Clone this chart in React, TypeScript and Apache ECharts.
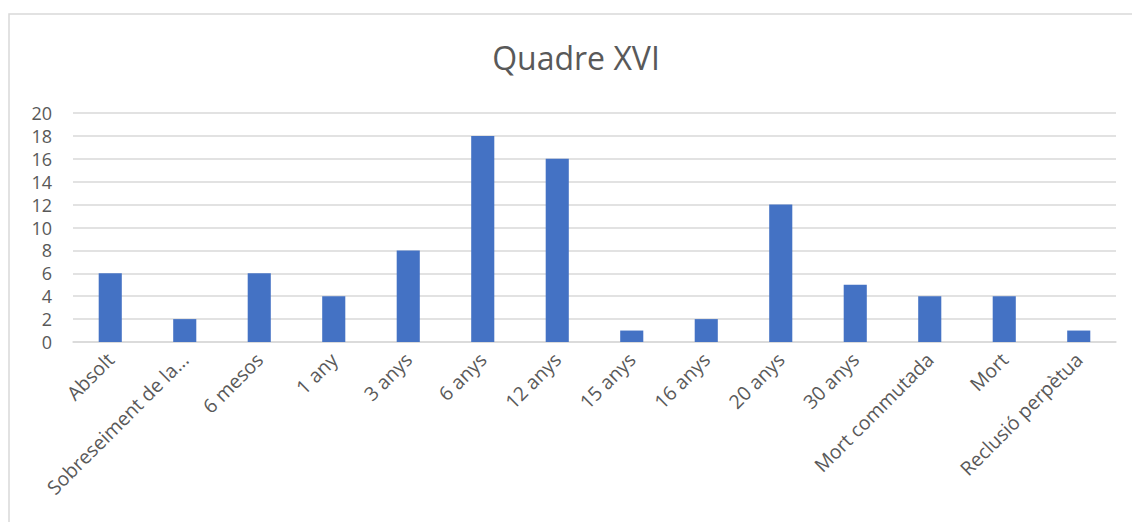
import React, { useEffect, useRef } from "react";
import * as echarts from "echarts";

const categories = [
  "Absolt",
  "Sobreseiment de la...",
  "6 mesos",
  "1 any",
  "3 anys",
  "6 anys",
  "12 anys",
  "15 anys",
  "16 anys",
  "20 anys",
  "30 anys",
  "Mort commutada",
  "Mort",
  "Reclusió perpètua",
];
const values = [6, 2, 6, 4, 8, 18, 16, 1, 2, 12, 5, 4, 4, 1];
const titleText = "Quadre XVI";

export default function App() {
  const ref = useRef<HTMLDivElement>(null);
  useEffect(() => {
    document.body.style.margin = "0";
    if (!ref.current) return;
    const chart = echarts.init(ref.current, undefined, { renderer: "svg" });
    const font = "'Open Sans', 'Noto Sans', sans-serif";
    chart.setOption({
      animation: false,
      backgroundColor: "#ffffff",
      title: {
        text: titleText,
        left: 571,
        top: 36,
        textAlign: "center",
        textStyle: { fontFamily: font, fontSize: 32, fontWeight: "normal", color: "#595959" },
      },
      graphic: [
        {
          type: "rect",
          shape: { x: 9, y: 14, width: 1140, height: 540 },
          style: { fill: "none", stroke: "#d9d9d9", lineWidth: 1.5 },
          silent: true,
        },
      ],
      grid: { left: 73, right: 16, top: 113, bottom: 180, containLabel: false },
      xAxis: {
        type: "category",
        data: categories,
        axisLine: { show: true, lineStyle: { color: "#d9d9d9", width: 1.5 } },
        axisTick: { show: false },
        axisLabel: {
          rotate: 45,
          interval: 0,
          margin: 14,
          fontFamily: font,
          fontSize: 19.5,
          color: "#595959",
        },
      },
      yAxis: {
        type: "value",
        min: 0,
        max: 20,
        interval: 2,
        axisLine: { show: false },
        axisTick: { show: false },
        splitLine: { lineStyle: { color: "#d9d9d9", width: 1.5 } },
        axisLabel: {
          margin: 21,
          fontFamily: font,
          fontSize: 18,
          color: "#595959",
        },
      },
      series: [
        {
          type: "bar",
          data: values,
          barWidth: "31%",
          itemStyle: { color: "#4472C4" },
        },
      ],
    });
    return () => chart.dispose();
  }, []);
  return (
    <div
      ref={ref}
      style={{ position: "absolute", left: 0, top: 0, width: 1132, height: 522 }}
    />
  );
}
